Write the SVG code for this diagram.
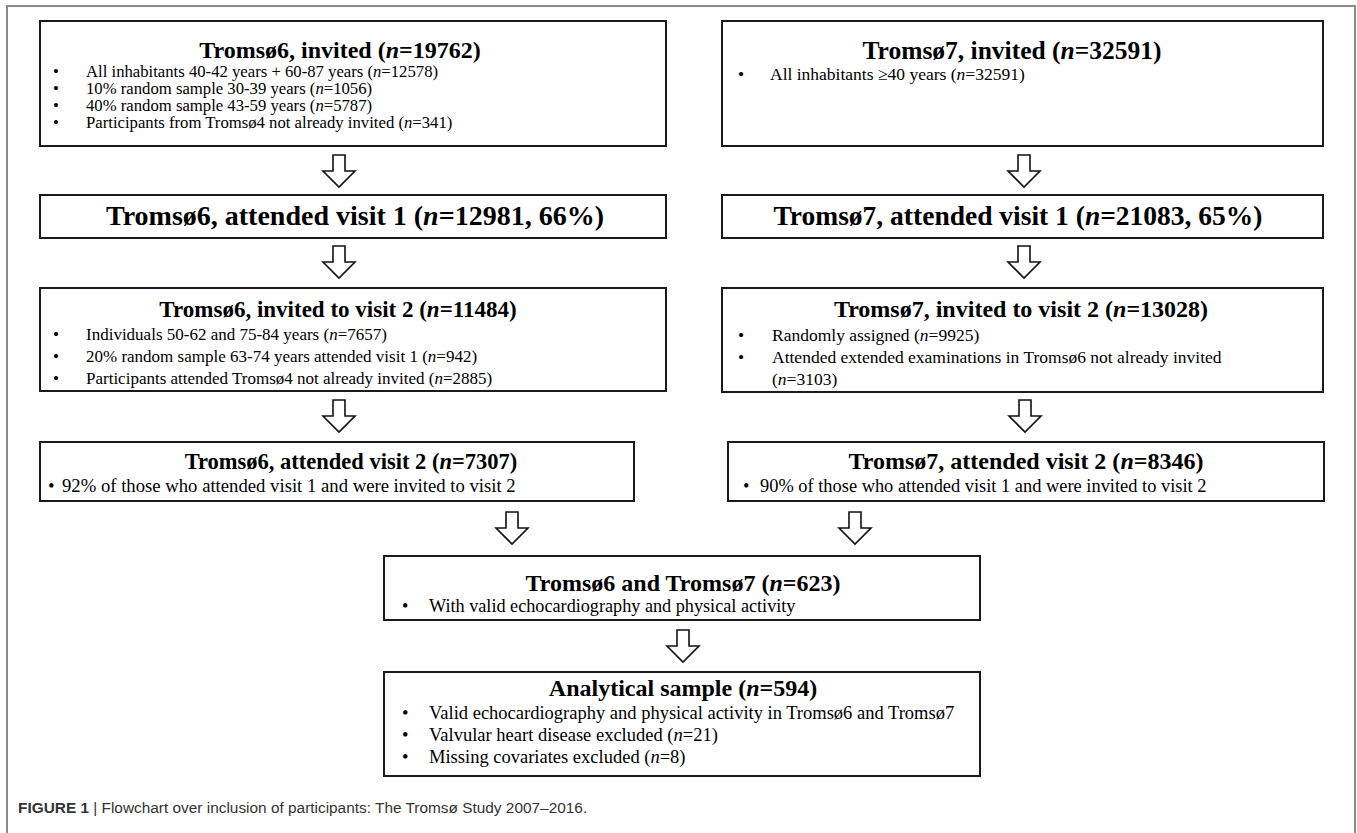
<svg xmlns="http://www.w3.org/2000/svg" width="1357" height="833" viewBox="0 0 1357 833">
<style>
.box{fill:#fff;stroke:#1a1a1a;stroke-width:2}
.arr{fill:#fff;stroke:#111;stroke-width:1.6;stroke-linejoin:miter}
.t{font-family:"Liberation Serif","Times New Roman",serif;font-weight:bold;font-size:24px;text-anchor:middle;fill:#000}
.b{font-family:"Liberation Serif","Times New Roman",serif;font-size:17.5px;fill:#000}
.s{font-size:16.7px}
.i{font-style:italic}
.cap{font-family:"Liberation Sans",Arial,sans-serif;font-size:15.4px;fill:#333}
</style>
<defs>
<path id="arrow" d="M-6,0 H6 V16 H16 L0,32 L-16,16 H-6 Z"/>
</defs>
<rect x="0" y="0" width="1357" height="833" fill="#fff"/>
<path d="M7,840 V6 H1355 V840" fill="none" stroke="#8a8a8a" stroke-width="2"/>

<g id="connectors">
<use href="#arrow" class="arr" transform="translate(339,155)"/>
<use href="#arrow" class="arr" transform="translate(1024,155)"/>
<use href="#arrow" class="arr" transform="translate(339,246)"/>
<use href="#arrow" class="arr" transform="translate(1024,246)"/>
<use href="#arrow" class="arr" transform="translate(339,400)"/>
<use href="#arrow" class="arr" transform="translate(1025,400)"/>
<use href="#arrow" class="arr" transform="translate(512,512)"/>
<use href="#arrow" class="arr" transform="translate(855,512)"/>
<use href="#arrow" class="arr" transform="translate(683,630)"/>
</g>

<g id="t6-invited">
<rect class="box" x="40" y="21" width="626" height="125"/>
<text class="t" x="340" y="58">Tromsø6, invited (<tspan class="i">n</tspan>=19762)</text>
<text class="b s" x="53" y="77">•</text><text class="b s" x="86" y="77">All inhabitants 40-42 years + 60-87 years (<tspan class="i">n</tspan>=12578)</text>
<text class="b s" x="53" y="94">•</text><text class="b s" x="86" y="94">10% random sample 30-39 years (<tspan class="i">n</tspan>=1056)</text>
<text class="b s" x="53" y="111">•</text><text class="b s" x="86" y="111">40% random sample 43-59 years (<tspan class="i">n</tspan>=5787)</text>
<text class="b s" x="53" y="128">•</text><text class="b s" x="86" y="128">Participants from Tromsø4 not already invited (<tspan class="i">n</tspan>=341)</text>
</g>

<g id="t7-invited">
<rect class="box" x="722" y="21" width="601" height="125"/>
<text class="t" x="1012" y="59" style="font-size:25.5px">Tromsø7, invited (<tspan class="i">n</tspan>=32591)</text>
<text class="b" x="738" y="80">•</text><text class="b" x="770" y="80">All inhabitants ≥40 years (<tspan class="i">n</tspan>=32591)</text>
</g>

<g id="t6-visit1">
<rect class="box" x="40" y="195" width="626" height="43"/>
<text class="t" x="355" y="225" style="font-size:28px">Tromsø6, attended visit 1 (<tspan class="i">n</tspan>=12981, 66%)</text>
</g>

<g id="t7-visit1">
<rect class="box" x="722" y="195" width="601" height="43"/>
<text class="t" x="1018" y="225" style="font-size:27.5px">Tromsø7, attended visit 1 (<tspan class="i">n</tspan>=21083, 65%)</text>
</g>

<g id="t6-invited2">
<rect class="box" x="40" y="288" width="626" height="103"/>
<text class="t" x="338" y="317" style="font-size:23px">Tromsø6, invited to visit 2 (<tspan class="i">n</tspan>=11484)</text>
<text class="b" x="53" y="340" style="font-size:17px">•</text><text class="b" x="86" y="340" style="font-size:17px">Individuals 50-62 and 75-84 years (<tspan class="i">n</tspan>=7657)</text>
<text class="b" x="53" y="362" style="font-size:17px">•</text><text class="b" x="86" y="362" style="font-size:17px">20% random sample 63-74 years attended visit 1 (<tspan class="i">n</tspan>=942)</text>
<text class="b" x="53" y="384" style="font-size:17px">•</text><text class="b" x="86" y="384" style="font-size:17px">Participants attended Tromsø4 not already invited (<tspan class="i">n</tspan>=2885)</text>
</g>

<g id="t7-invited2">
<rect class="box" x="722" y="288" width="601" height="104"/>
<text class="t" x="1021" y="317">Tromsø7, invited to visit 2 (<tspan class="i">n</tspan>=13028)</text>
<text class="b" x="738" y="341">•</text><text class="b" x="772" y="341">Randomly assigned (<tspan class="i">n</tspan>=9925)</text>
<text class="b" x="738" y="363">•</text><text class="b" x="772" y="363">Attended extended examinations in Tromsø6 not already invited</text>
<text class="b" x="772" y="385">(<tspan class="i">n</tspan>=3103)</text>
</g>

<g id="t6-visit2">
<rect class="box" x="40" y="442" width="594" height="59"/>
<text class="t" x="351" y="469" style="font-size:22.5px">Tromsø6, attended visit 2 (<tspan class="i">n</tspan>=7307)</text>
<text class="b" x="48" y="492" style="font-size:18.7px">•</text><text class="b" x="62" y="492" style="font-size:18.7px">92% of those who attended visit 1 and were invited to visit 2</text>
</g>

<g id="t7-visit2">
<rect class="box" x="728" y="442" width="596" height="59"/>
<text class="t" x="1026" y="469">Tromsø7, attended visit 2 (<tspan class="i">n</tspan>=8346)</text>
<text class="b" x="743" y="492" style="font-size:18.4px">•</text><text class="b" x="760" y="492" style="font-size:18.4px">90% of those who attended visit 1 and were invited to visit 2</text>
</g>

<g id="combined">
<rect class="box" x="384" y="556" width="596" height="64"/>
<text class="t" x="683" y="591">Tromsø6 and Tromsø7 (<tspan class="i">n</tspan>=623)</text>
<text class="b" x="402" y="612" style="font-size:18.2px">•</text><text class="b" x="429" y="612" style="font-size:18.2px">With valid echocardiography and physical activity</text>
</g>

<g id="analytical">
<rect class="box" x="384" y="672" width="596" height="104"/>
<text class="t" x="683" y="696">Analytical sample (<tspan class="i">n</tspan>=594)</text>
<text class="b" x="402" y="719" style="font-size:18.5px">•</text><text class="b" x="429" y="719" style="font-size:18.5px">Valid echocardiography and physical activity in Tromsø6 and Tromsø7</text>
<text class="b" x="402" y="741" style="font-size:18.5px">•</text><text class="b" x="429" y="741" style="font-size:18.5px">Valvular heart disease excluded (<tspan class="i">n</tspan>=21)</text>
<text class="b" x="402" y="763" style="font-size:18.5px">•</text><text class="b" x="429" y="763" style="font-size:18.5px">Missing covariates excluded (<tspan class="i">n</tspan>=8)</text>
</g>

<text class="cap" x="18" y="813"><tspan font-weight="bold">FIGURE 1</tspan> | Flowchart over inclusion of participants: The Tromsø Study 2007–2016.</text>
</svg>
